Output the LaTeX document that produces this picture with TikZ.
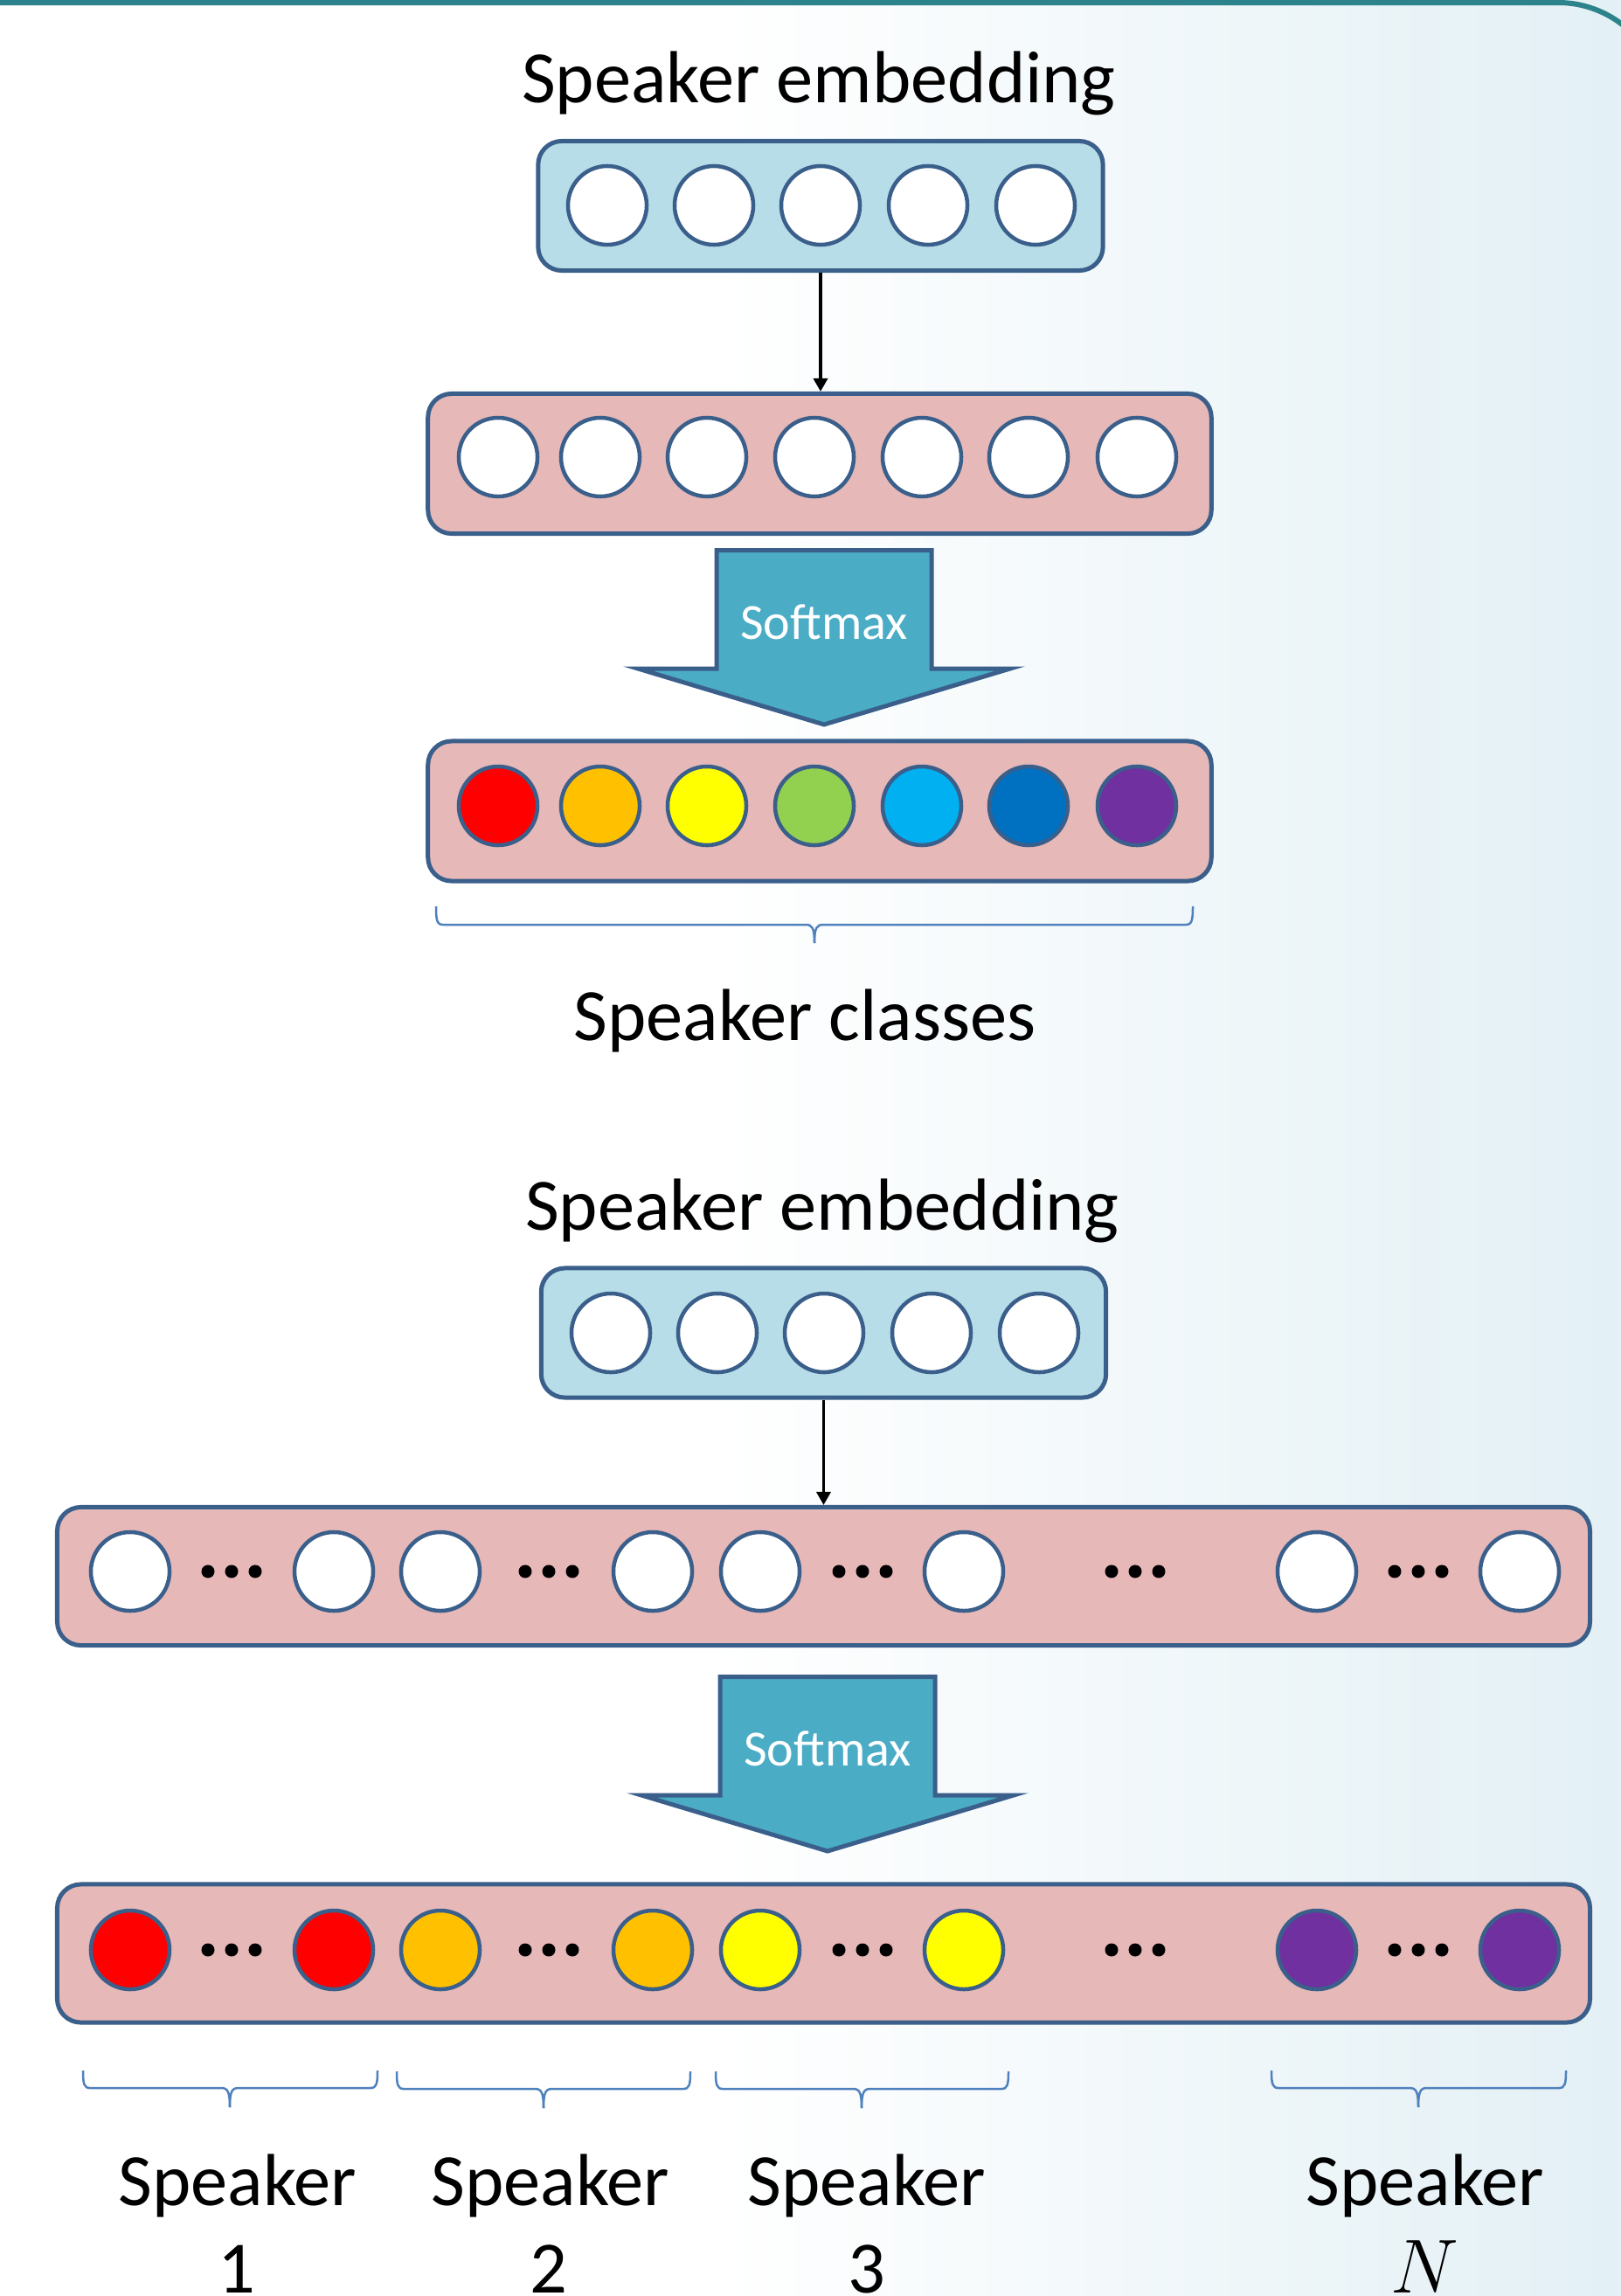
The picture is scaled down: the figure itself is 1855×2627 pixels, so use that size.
\documentclass[tikz,border=0pt]{standalone}
\usepackage{fontspec}
\setmainfont{Carlito}
\usetikzlibrary{arrows.meta}

\definecolor{edgeblue}{HTML}{3A5F8B}
\definecolor{embfill}{HTML}{B7DDE8}
\definecolor{hidfill}{HTML}{E6B8B7}
\definecolor{smaxfill}{HTML}{4BACC6}
\definecolor{bracecol}{HTML}{4F81BD}
\definecolor{framecol}{HTML}{2C838C}
\definecolor{bgblue}{RGB}{227,240,245}
\definecolor{cred}{HTML}{FF0000}
\definecolor{corange}{HTML}{FFC000}
\definecolor{cyellow}{HTML}{FFFF00}
\definecolor{cgreen}{HTML}{92D050}
\definecolor{ccyan}{HTML}{00B0F0}
\definecolor{cblue}{HTML}{0070C0}
\definecolor{cpurple}{HTML}{7030A0}

% page background: white on the left, fading to pale blue on the right
\pgfdeclarehorizontalshading{bgshade}{100bp}{color(0bp)=(white); color(47bp)=(white); color(75bp)=(bgblue); color(100bp)=(bgblue)}

\tikzset{
  layer/.style={draw=edgeblue, line width=0.05cm, rounded corners=0.27cm, inner sep=0pt},
  embbox/.style={layer, fill=embfill, minimum width=6.46cm, minimum height=1.48cm},
  hidbox/.style={layer, fill=hidfill, minimum width=8.96cm, minimum height=1.60cm},
  widebox/.style={layer, fill=hidfill, minimum width=17.53cm, minimum height=1.58cm},
  neuron/.style={circle, draw=edgeblue, line width=0.045cm, fill=white, minimum size=0.90cm, inner sep=0pt},
  ell/.style={circle, fill=black, minimum size=0.15cm, inner sep=0pt},
  conn/.style={line width=0.035cm, -{Triangle[length=0.15cm,width=0.16cm]}},
  smax/.style={draw=edgeblue, line width=0.05cm, fill=smaxfill},
  smaxtext/.style={text=white, font=\fontsize{16.5}{20}\selectfont, anchor=base, inner sep=0pt},
  title/.style={font=\fontsize{24}{29}\selectfont, anchor=base, inner sep=0pt},
  brc/.style={draw=bracecol, line width=0.025cm},
}

% horizontal curly brace opening upwards: left, right, middle, top, bar, tip
\newcommand\spkbrace[6]{%
  \draw[brc] (#1,#4) .. controls (#1,#5-5) and (#1+1,#5) .. (#1+8,#5) -- (#3-10,#5)
    .. controls (#3-3,#5) and (#3,#5+3) .. (#3,#6);
  \draw[brc] (#2,#4) .. controls (#2,#5-5) and (#2-1,#5) .. (#2-8,#5) -- (#3+10,#5)
    .. controls (#3+3,#5) and (#3,#5+3) .. (#3,#6);
}

% block arrow labelled Softmax, drawn relative to a shift
\newcommand\softarrow[3]{%
  \begin{scope}[shift={(#1,#2)}]
    \path[smax] (820,629.5) -- (1066,629.5) -- (1066,765) -- (1156,765) -- (943,829)
      -- (730,765) -- (820,765) -- cycle;
    \node[smaxtext] (#3) at (943,731) {Softmax};
  \end{scope}
}

\begin{document}
\begin{tikzpicture}[x=0.01cm, y=-0.01cm]
\useasboundingbox (0,0) rectangle (1855,2627);
\shade[shading=bgshade] (0,0) rectangle (1855,2627);
\begin{scope}
  \clip (0,0) rectangle (1855,2627);
  \draw[framecol, line width=0.06cm] (-20,3) -- (1783,3)
    arc[start angle=-90, end angle=0, radius=120] -- (1903,2700);
\end{scope}

% ---------- classification over a few speaker classes ----------
\node[title] (t1) at (937,117) {Speaker embedding};
\node[embbox] (emb1) at (939,235.5) {};
\foreach \x [count=\i] in {695,817,939,1062,1185}
  \node[neuron] (e1n\i) at (\x,235) {};

\node[hidbox] (hid1) at (938,530.5) {};
\foreach \x [count=\i] in {570,687,809,932,1055,1177,1301}
  \node[neuron] (h1n\i) at (\x,523) {};
\draw[conn] (emb1.south) -- (emb1.south |- hid1.north);

\softarrow{0}{0}{sm1}

\node[hidbox] (out1) at (938,928) {};
\foreach \x/\c [count=\i] in {570/cred,687/corange,809/cyellow,932/cgreen,1055/ccyan,1177/cblue,1301/cpurple}
  \node[neuron, fill=\c] (o1n\i) at (\x,922) {};

\spkbrace{499}{1365}{932}{1037}{1058}{1079}
\node[title] (cls) at (921,1190) {Speaker classes};

% ---------- classification over N speakers ----------
\node[title] (t2) at (941,1407) {Speaker embedding};
\node[embbox] (emb2) at (942.5,1525) {};
\foreach \x [count=\i] in {699,821,943,1066,1189}
  \node[neuron] (e2n\i) at (\x,1525) {};

\node[widebox] (hid2) at (942.5,1803.5) {};
\foreach \x [count=\i] in {149,382,504,747,870,1103,1507,1739}
  \node[neuron] (h2n\i) at (\x,1798) {};
\foreach \x [count=\i] in {265,628,987,1299,1623}
  \foreach \d [count=\j] in {-27,0,27}
    \node[ell] (h2d\i-\j) at (\x+\d,1798) {};
\draw[conn] (emb2.south) -- (emb2.south |- hid2.north);

\softarrow{4}{1289}{sm2}

\node[widebox] (out2) at (942.5,2235) {};
\foreach \x/\c [count=\i] in {149/cred,382/cred,504/corange,747/corange,870/cyellow,1103/cyellow,1507/cpurple,1739/cpurple}
  \node[neuron, fill=\c] (o2n\i) at (\x,2231) {};
\foreach \x [count=\i] in {265,628,987,1299,1623}
  \foreach \d [count=\j] in {-27,0,27}
    \node[ell] (o2d\i-\j) at (\x+\d,2231) {};

\spkbrace{95}{432}{263}{2369}{2389}{2411}
\spkbrace{454}{790}{622}{2370}{2390}{2412}
\spkbrace{819}{1154}{986}{2370}{2390}{2412}
\spkbrace{1455}{1792}{1623}{2369}{2389}{2411}

\node[title] (s1) at (272,2523) {Speaker};
\node[title] (s1n) at (271,2623) {1};
\node[title] (s2) at (630,2523) {Speaker};
\node[title] (s2n) at (628,2623) {2};
\node[title] (s3) at (992,2523) {Speaker};
\node[title] (s3n) at (992,2623) {3};
\node[title] (sN) at (1631,2523) {Speaker};
\node[title] (sNn) at (1630,2623) {$N$};
\end{tikzpicture}
\end{document}
